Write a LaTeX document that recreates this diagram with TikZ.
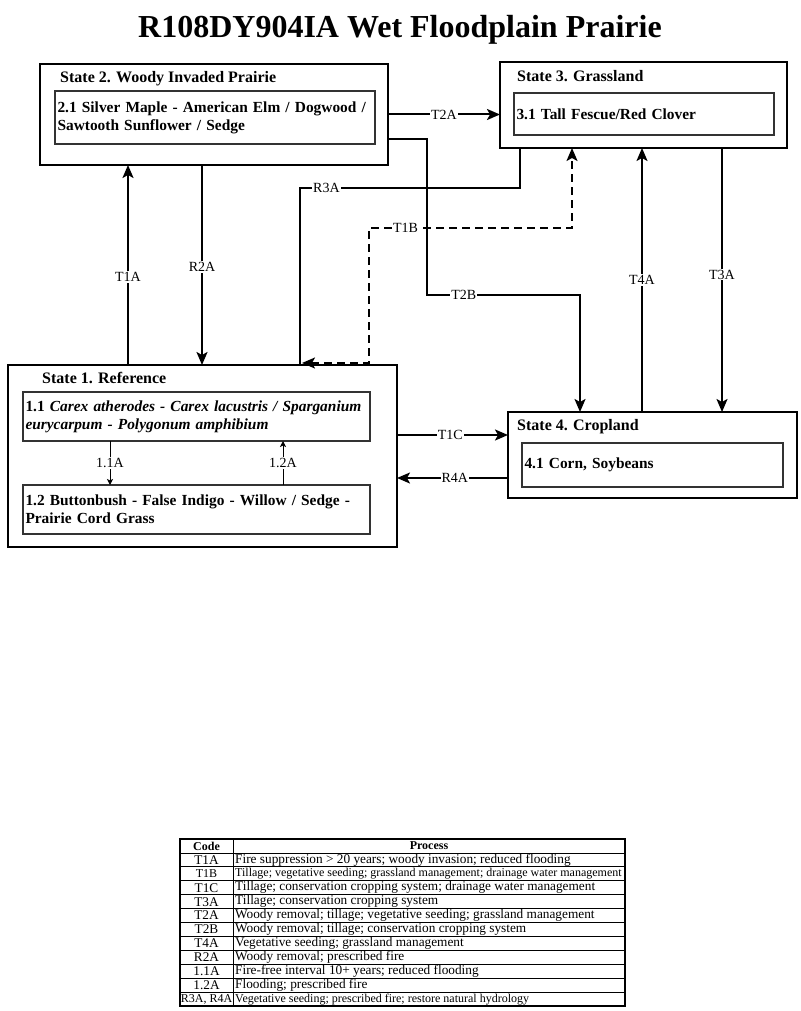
\documentclass[tikz,border=0pt]{standalone}
\usepackage{fontspec}
\setmainfont{Liberation Serif}
\usepackage{tikz}
\usetikzlibrary{positioning, calc, arrows.meta}
\tikzset{
    statebox/.style={
        draw, line width=2.6pt, anchor=north west, inner sep=0pt, outer sep=0pt
    },
    phasebox/.style={
        draw=black!80, line width=1.1pt, anchor=north west, inner sep=2.5pt, outer sep=0pt,
        align=left, font=\fontsize{15.4}{18}\selectfont\bfseries
    },
    statetitle/.style={
        anchor=base west, inner sep=0pt, font=\fontsize{16}{18}\selectfont\bfseries
    },
    arr/.style={
        -{Stealth[length=13pt, width=11pt, inset=3pt]}, line width=2pt
    },
    thinarr/.style={
        -{Stealth[length=6pt, width=6pt, inset=1.5pt]}, line width=1pt
    },
    lbl/.style={
        fill=white, inner sep=1pt, font=\fontsize{14}{16}\selectfont
    }
}

\begin{document}
\begin{tikzpicture}[
                x=1pt, y=-1pt,
                cellcode/.style={anchor=center, inner sep=0pt},
                cellproc/.style={anchor=west, inner sep=0pt},
                tblline/.style={line width=0.8pt}
            ]
                \path[fill=white] (0,0) rectangle (800,1011);
                \useasboundingbox (0,0) rectangle (800,1011);

                % 1. TITLE AND STATES
                \node[anchor=base, inner sep=0pt, font=\fontsize{32}{36}\selectfont\bfseries] (title) at (400,38) {R108DY904IA Wet Floodplain Prairie};

                \node[statebox, minimum width=348pt, minimum height=101pt] (s2) at (40,64) {};
                \node[statetitle] (s2t) at (60,83) {State 2. Woody Invaded Prairie};
                \node[phasebox, text width=315pt, minimum height=53pt] (p21) at (55,91)
                    {\mbox{2.1 Silver Maple - American Elm / Dogwood /}\\\mbox{Sawtooth Sunflower / Sedge}};

                \node[statebox, minimum width=287pt, minimum height=86pt] (s3) at (500,62) {};
                \node[statetitle] (s3t) at (517,82) {State 3. Grassland};
                \node[phasebox, text width=255pt, minimum height=42pt] (p31) at (514,93) {3.1 Tall Fescue/Red Clover};

                \node[statebox, minimum width=389pt, minimum height=182pt] (s1) at (8,365) {};
                \node[statetitle] (s1t) at (42,383) {State 1. Reference};
                \node[phasebox, text width=342pt, minimum height=49pt] (p11) at (23,392)
                    {\mbox{1.1 \textit{Carex atherodes - Carex lacustris / Sparganium}}\\\mbox{\textit{eurycarpum - Polygonum amphibium}}};
                \node[phasebox, text width=342pt, minimum height=49pt] (p12) at (23,485)
                    {\mbox{1.2 Buttonbush - False Indigo - Willow / Sedge -}\\\mbox{Prairie Cord Grass}};

                \node[statebox, minimum width=289pt, minimum height=86pt] (s4) at (508,412) {};
                \node[statetitle] (s4t) at (517,430) {State 4. Cropland};
                \node[phasebox, text width=256pt, minimum height=44pt] (p41) at (522,443) {4.1 Corn, Soybeans};

                % 2. TRANSITIONS
                \coordinate (t2bstart) at ($(s2.south east)+(0,-26)$);
                \coordinate (t2bknee) at (427,295);
                \coordinate (t2bend) at ($(s4.north west)+(72,0)$);
                \coordinate (r3astart) at ($(s3.south west)+(20,0)$);
                \coordinate (r3aknee) at (300,188);
                \coordinate (t1bstart) at ($(s1.north west)+(294,-2)$);
                \coordinate (t1bknee) at (369,228);
                \coordinate (t1bend) at ($(s3.south west)+(72,0)$);
                \coordinate (t1astart) at ($(s1.north west)+(120,0)$);
                \coordinate (r2astart) at ($(s2.south west)+(162,0)$);
                \coordinate (t1cstart) at ($(s1.north east)+(0,70)$);
                \coordinate (r4astart) at ($(s4.north west)+(0,66)$);
                \coordinate (t4astart) at ($(s4.north west)+(134,0)$);
                \coordinate (t3astart) at ($(s3.south west)+(222,0)$);

                \draw[arr] (s2.east) -- (s2.east -| s3.west) node[lbl, midway] {T2A};
                \draw[arr] (t2bstart) -| (t2bknee) -| node[lbl, pos=0.12] {T2B} (t2bend);
                \draw[line width=2pt] (r3astart) |- node[lbl, pos=0.94] {R3A} (r3aknee) -- (r3aknee |- s1.north);
                \draw[arr, {Stealth[length=13pt, width=11pt, inset=3pt]}-{Stealth[length=13pt, width=11pt, inset=3pt]},
                      dashed, dash pattern=on 8pt off 5pt]
                    (t1bstart) -| (t1bknee) -| node[lbl, pos=0.09] {T1B} (t1bend);
                \draw[arr] (t1astart) -- (t1astart |- s2.south) node[lbl, pos=0.44] {T1A};
                \draw[arr] (r2astart) -- (r2astart |- s1.north) node[lbl, pos=0.51] {R2A};
                \draw[arr] (t1cstart) -- (t1cstart -| s4.west) node[lbl, pos=0.48] {T1C};
                \draw[arr] (r4astart) -- (r4astart -| s1.east) node[lbl, pos=0.48] {R4A};
                \draw[arr] (t4astart) -- (t4astart |- s3.south) node[lbl, pos=0.5] {T4A};
                \draw[arr] (t3astart) -- (t3astart |- s4.north) node[lbl, pos=0.48] {T3A};

                % 3. PATHWAYS INSIDE STATE 1
                \coordinate (p11a) at ($(p11.south west)+(87,0)$);
                \coordinate (p12a) at ($(p12.north west)+(260,0)$);
                \draw[thinarr] (p11a) -- (p11a |- p12.north) node[lbl, midway] {1.1A};
                \draw[thinarr] (p12a) -- (p12a |- p11.south) node[lbl, midway] {1.2A};

                % 4. LEGEND TABLE
                \draw[line width=1.3pt] (180,839) rectangle (625,1006);
                \draw[tblline] (233,839) -- (233,1006);
                \node[cellcode, font=\fontsize{12}{12}\selectfont\bfseries] (codehead) at (206.5,846) {Code};
                \node[cellcode, font=\fontsize{12}{12}\selectfont\bfseries] (prochead) at (429,846) {Process};
                \foreach \code/\proc/\fs [count=\i] in {
                    T1A/{Fire suppression > 20 years; woody invasion; reduced flooding}/13.3,
                    T1B/{Tillage; vegetative seeding; grassland management; drainage water management}/12,
                    T1C/{Tillage; conservation cropping system; drainage water management}/13.3,
                    T3A/{Tillage; conservation cropping system}/13.3,
                    T2A/{Woody removal; tillage; vegetative seeding; grassland management}/13.3,
                    T2B/{Woody removal; tillage; conservation cropping system}/13.3,
                    T4A/{Vegetative seeding; grassland management}/13.3,
                    R2A/{Woody removal; prescribed fire}/13.3,
                    1.1A/{Fire-free interval 10+ years; reduced flooding}/13.3,
                    1.2A/{Flooding; prescribed fire}/13.3,
                    {R3A, R4A}/{Vegetative seeding; prescribed fire; restore natural hydrology}/12
                } {
                    \draw[tblline] (180,{839+\i*13.917}) -- (625,{839+\i*13.917});
                    \node[cellcode, font=\fontsize{\fs}{\fs}\selectfont] (code\i) at (206.5,{846+\i*13.917}) {\code};
                    \node[cellproc, font=\fontsize{\fs}{\fs}\selectfont] (proc\i) at (235,{846+\i*13.917}) {\proc};
                }

            \end{tikzpicture}
\end{document}
